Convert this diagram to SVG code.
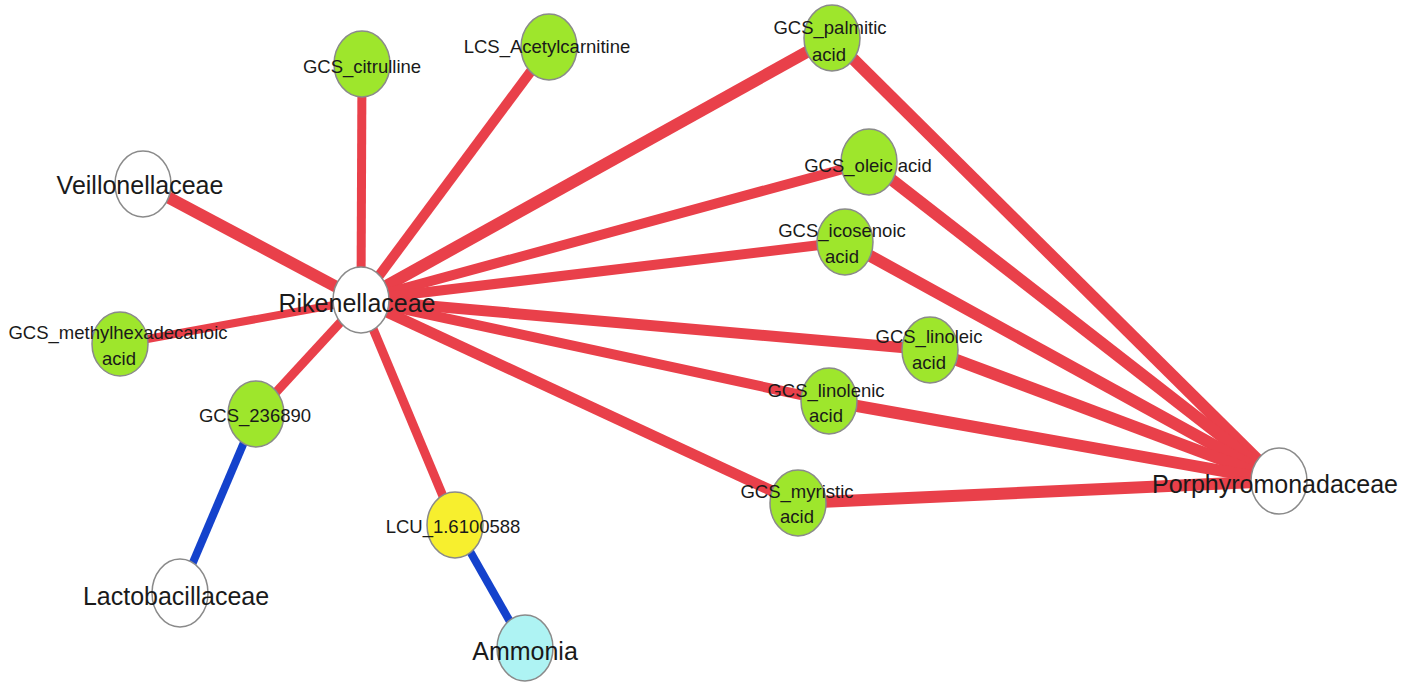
<svg xmlns="http://www.w3.org/2000/svg" width="1415" height="683" viewBox="0 0 1415 683">
<style>
.e{stroke:#E9404A;stroke-linecap:butt;fill:none}
.b{stroke:#1442CC;stroke-width:8;fill:none}
.n{stroke:#8a8a8a;stroke-width:1.5}
.g{fill:#9EE62C}
.w{fill:#ffffff}
.y{fill:#F7EF2E}
.c{fill:#AEF3F3}
text{font-family:"Liberation Sans",Arial,sans-serif;fill:#1a1a1a;text-anchor:middle}
.s{font-size:18.5px}
.L{font-size:25px}
</style>
<rect width="1415" height="683" fill="#ffffff"/>
<g id="edges">
<line class="e" stroke-width="9" x1="361" y1="300" x2="362" y2="64"/>
<line class="e" stroke-width="10" x1="361" y1="300" x2="549" y2="47"/>
<line class="e" stroke-width="12" x1="361" y1="300" x2="832" y2="38"/>
<line class="e" stroke-width="10" x1="361" y1="300" x2="869" y2="162"/>
<line class="e" stroke-width="10" x1="361" y1="300" x2="845" y2="242"/>
<line class="e" stroke-width="11" x1="361" y1="300" x2="930" y2="350"/>
<line class="e" stroke-width="10" x1="361" y1="300" x2="829" y2="401"/>
<line class="e" stroke-width="11" x1="361" y1="300" x2="798" y2="503"/>
<line class="e" stroke-width="12" x1="361" y1="300" x2="143" y2="184"/>
<line class="e" stroke-width="8" x1="361" y1="300" x2="120" y2="344"/>
<line class="e" stroke-width="9" x1="361" y1="300" x2="256" y2="414"/>
<line class="e" stroke-width="9" x1="361" y1="300" x2="455" y2="525"/>
<line class="e" stroke-width="12" x1="1279" y1="481" x2="832" y2="38"/>
<line class="e" stroke-width="12" x1="1279" y1="481" x2="869" y2="162"/>
<line class="e" stroke-width="12" x1="1279" y1="481" x2="845" y2="242"/>
<line class="e" stroke-width="12" x1="1279" y1="481" x2="930" y2="350"/>
<line class="e" stroke-width="12" x1="1279" y1="481" x2="829" y2="401"/>
<line class="e" stroke-width="12" x1="1279" y1="481" x2="798" y2="503"/>
<line class="b" x1="256" y1="414" x2="180" y2="593"/>
<line class="b" x1="455" y1="525" x2="525" y2="648"/>
</g>
<g id="n_citrulline"><ellipse class="n g" cx="362" cy="64" rx="28" ry="33"/><text class="s" x="362" y="73">GCS_citrulline</text></g>
<g id="n_acetylcarnitine"><ellipse class="n g" cx="549" cy="47" rx="28" ry="33"/><text class="s" x="547" y="53">LCS_Acetylcarnitine</text></g>
<g id="n_palmitic"><ellipse class="n g" cx="832" cy="38" rx="28" ry="33"/><text class="s" x="830" y="34">GCS_palmitic</text><text class="s" x="829" y="61">acid</text></g>
<g id="n_oleic"><ellipse class="n g" cx="869" cy="162" rx="28" ry="33"/><text class="s" x="868" y="172">GCS_oleic acid</text></g>
<g id="n_icosenoic"><ellipse class="n g" cx="845" cy="242" rx="28" ry="33"/><text class="s" x="842" y="237">GCS_icosenoic</text><text class="s" x="842" y="263">acid</text></g>
<g id="n_linoleic"><ellipse class="n g" cx="930" cy="350" rx="28" ry="33"/><text class="s" x="929" y="343">GCS_linoleic</text><text class="s" x="929" y="369">acid</text></g>
<g id="n_linolenic"><ellipse class="n g" cx="829" cy="401" rx="28" ry="33"/><text class="s" x="826" y="397">GCS_linolenic</text><text class="s" x="826" y="422">acid</text></g>
<g id="n_myristic"><ellipse class="n g" cx="798" cy="503" rx="28" ry="33"/><text class="s" x="797" y="498">GCS_myristic</text><text class="s" x="797" y="523">acid</text></g>
<g id="n_methylhexadecanoic"><ellipse class="n g" cx="120" cy="344" rx="28" ry="32"/><text class="s" x="118" y="339">GCS_methylhexadecanoic</text><text class="s" x="119" y="365">acid</text></g>
<g id="n_236890"><ellipse class="n g" cx="256" cy="414" rx="28" ry="33"/><text class="s" x="255" y="422">GCS_236890</text></g>
<g id="n_lcu"><ellipse class="n y" cx="455" cy="525" rx="28" ry="33"/><text class="s" x="453" y="533">LCU_1.6100588</text></g>
<g id="n_veillonellaceae"><ellipse class="n w" cx="143" cy="184" rx="28" ry="33"/><text class="L" x="140" y="194">Veillonellaceae</text></g>
<g id="n_rikenellaceae"><ellipse class="n w" cx="361" cy="300" rx="28" ry="33"/><text class="L" x="357" y="312">Rikenellaceae</text></g>
<g id="n_lactobacillaceae"><ellipse class="n w" cx="180" cy="593" rx="28" ry="34"/><text class="L" x="176" y="605">Lactobacillaceae</text></g>
<g id="n_ammonia"><ellipse class="n c" cx="525" cy="648" rx="28" ry="33"/><text class="L" x="525" y="660">Ammonia</text></g>
<g id="n_porphyromonadaceae"><ellipse class="n w" cx="1279" cy="481" rx="28" ry="33"/><text class="L" x="1275" y="493">Porphyromonadaceae</text></g>
</svg>
